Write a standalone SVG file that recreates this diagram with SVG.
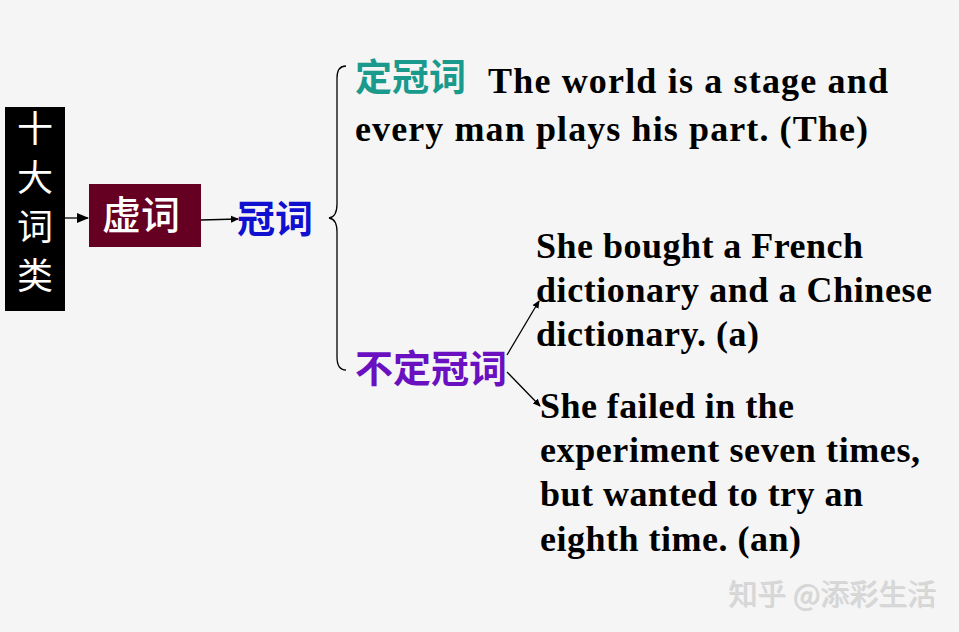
<svg xmlns="http://www.w3.org/2000/svg" width="959" height="632" viewBox="0 0 959 632">
<defs>
<style>
.en{font-family:"Liberation Serif","Times New Roman",serif;font-weight:bold;font-size:36px;fill:#000}
.cn{font-family:"Noto Sans CJK SC","Noto Sans",sans-serif}
.v{font-size:36px;fill:#fff}
.ln{stroke:#000;stroke-width:1.3;fill:none}
</style>
<marker id="ah" markerWidth="8" markerHeight="8" refX="7" refY="4" orient="auto" markerUnits="userSpaceOnUse"><path d="M0,0.5 L8,4 L0,7.5 Z" fill="#000"/></marker>
<marker id="ahb" markerWidth="12" markerHeight="12" refX="11" refY="6" orient="auto" markerUnits="userSpaceOnUse"><path d="M0,1 L12,6 L0,11 Z" fill="#000"/></marker>
</defs>
<rect width="959" height="632" fill="#f5f5f5"/>
<g id="n-shida">
<rect x="5" y="107" width="60" height="204" fill="#000"/>
<text class="cn v" x="35" y="142" text-anchor="middle">十</text>
<text class="cn v" x="35" y="191" text-anchor="middle">大</text>
<text class="cn v" x="35" y="240" text-anchor="middle">词</text>
<text class="cn v" x="35" y="289" text-anchor="middle">类</text>
</g>
<g id="n-xuci">
<rect x="89" y="184" width="112" height="63" fill="#660022"/>
<text class="cn" x="141" y="229" fill="#fff" font-size="39" font-weight="500" text-anchor="middle">虚词</text>
</g>
<g id="n-guanci">
<text class="cn" x="237" y="232" fill="#1010d0" font-size="38" font-weight="bold">冠词</text>
</g>
<g id="n-dingguanci">
<text class="cn" x="355" y="91" fill="#1a9a8c" font-size="37" font-weight="bold">定冠词</text>
<text class="en" x="488" y="93" textLength="400" lengthAdjust="spacing">The world is a stage and</text>
<text class="en" x="355" y="141" textLength="513" lengthAdjust="spacing">every man plays his part. (The)</text>
</g>
<g id="n-budingguanci">
<text class="cn" x="355" y="382" fill="#6a10c0" font-size="38" font-weight="bold">不定冠词</text>
</g>
<g id="n-a">
<text class="en" x="536" y="258" textLength="327" lengthAdjust="spacing">She bought a French</text>
<text class="en" x="536" y="302" textLength="396" lengthAdjust="spacing">dictionary and a Chinese</text>
<text class="en" x="536" y="346" textLength="223" lengthAdjust="spacing">dictionary. (a)</text>
</g>
<g id="n-an">
<text class="en" x="540" y="418" textLength="254" lengthAdjust="spacing">She failed in the</text>
<text class="en" x="540" y="462" textLength="380" lengthAdjust="spacing">experiment seven times,</text>
<text class="en" x="540" y="506" textLength="323" lengthAdjust="spacing">but wanted to try an</text>
<text class="en" x="540" y="551" textLength="261" lengthAdjust="spacing">eighth time. (an)</text>
</g>
<g id="connectors">
<line class="ln" x1="65" y1="218" x2="88" y2="218" stroke-width="3" marker-end="url(#ahb)"/>
<line class="ln" x1="201" y1="220" x2="238" y2="219" marker-end="url(#ah)"/>
<path class="ln" d="M346,66 Q337,66 337,78 L337,204 Q337,217 329,218 Q337,219 337,232 L337,357 Q337,370 346,370" stroke-width="1.2"/>
<line class="ln" x1="507" y1="355" x2="539" y2="301" marker-end="url(#ah)"/>
<line class="ln" x1="507" y1="372" x2="540" y2="406" marker-end="url(#ah)"/>
</g>
<text class="cn" x="729" y="606" fill="#999" font-size="29" opacity="0.35">知乎 @添彩生活</text>
<text class="cn" x="728" y="605" fill="#d8d8d8" font-size="29">知乎 @添彩生活</text>
</svg>
